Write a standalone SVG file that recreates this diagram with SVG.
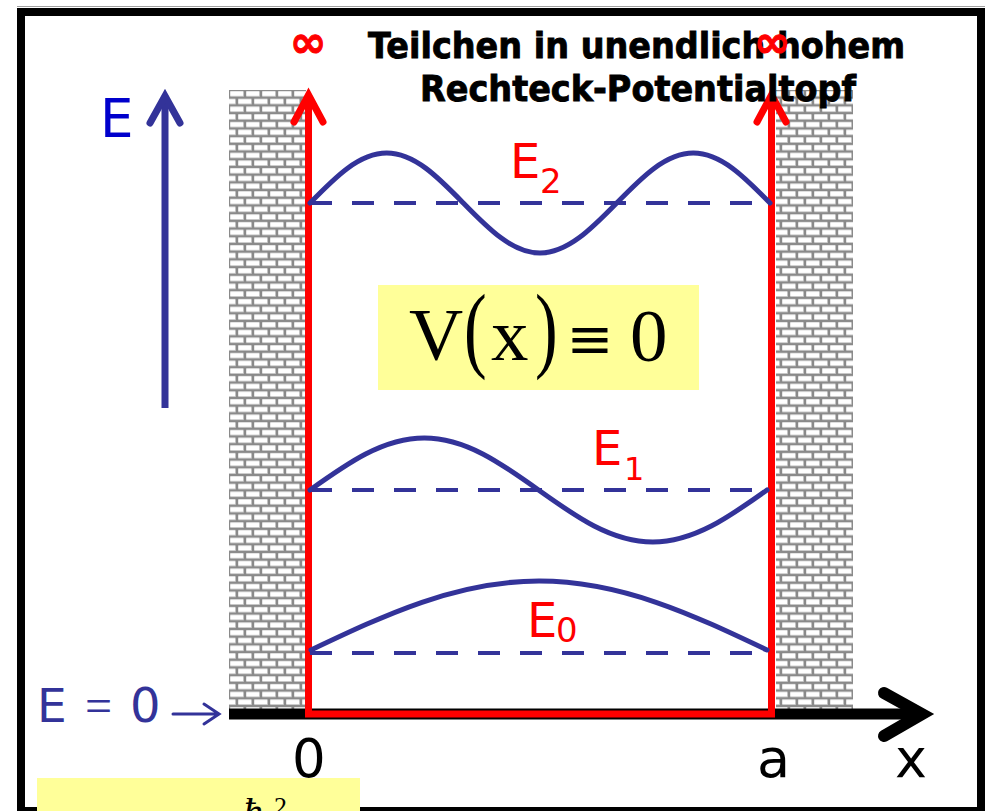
<svg xmlns="http://www.w3.org/2000/svg" width="985" height="811" viewBox="0 0 985 811">
<defs>
<style>
.sans{font-family:"DejaVu Sans","Verdana",sans-serif}
.serif{font-family:"Liberation Serif","Times New Roman",serif}
.wave{fill:none;stroke:#333399;stroke-width:5;stroke-linecap:round}
.dash{fill:none;stroke:#333399;stroke-width:4;stroke-dasharray:22 20}
.red{fill:none;stroke:#ff0000;stroke-width:7}
.redtxt{fill:#ff0000}
.title{font-family:"DejaVu Sans","Verdana",sans-serif;font-weight:bold;font-size:36px;fill:#000000;stroke:#000000;stroke-width:0.9}
</style>
<pattern id="brick" width="16" height="15.4" patternUnits="userSpaceOnUse" x="229" y="90">
<rect width="16" height="15.4" fill="#8a8a8a"/>
<rect x="1.3" y="1.3" width="13.6" height="5.4" fill="#c4c4c4"/>
<rect x="1.3" y="1.3" width="12.8" height="4.6" fill="#ffffff"/>
<rect x="-6.7" y="9" width="13.6" height="5.4" fill="#c4c4c4"/>
<rect x="-6.7" y="9" width="12.8" height="4.6" fill="#ffffff"/>
<rect x="9.3" y="9" width="13.6" height="5.4" fill="#c4c4c4"/>
<rect x="9.3" y="9" width="12.8" height="4.6" fill="#ffffff"/>
</pattern>
</defs>
<rect width="985" height="811" fill="#ffffff"/>
<line x1="17" y1="6.5" x2="985" y2="6.5" stroke="#a0a0a0" stroke-width="1"/>
<rect id="frame" x="21" y="12" width="960" height="799" fill="none" stroke="#000000" stroke-width="8"/>

<g id="walls">
<rect x="229" y="90" width="77" height="620" fill="url(#brick)"/>
<rect x="776" y="90" width="77" height="620" fill="url(#brick)"/>
</g>

<g id="connectors">
<line x1="229" y1="714" x2="920" y2="714" stroke="#000000" stroke-width="11"/>
<polyline points="884,693 922,714 884,736" fill="none" stroke="#000000" stroke-width="12" stroke-linecap="round" stroke-linejoin="miter"/>
<path class="red" d="M308.5,96 V714 H771.5 V96"/>
<polyline class="red" points="294,122 308.5,95 323,122" stroke-linecap="round" stroke-linejoin="miter"/>
<polyline class="red" points="757,122 771.5,95 786,122" stroke-linecap="round" stroke-linejoin="miter"/>
<line x1="165" y1="408" x2="165" y2="98" stroke="#333399" stroke-width="7"/>
<polyline points="150,123 165,96 180,123" fill="none" stroke="#333399" stroke-width="7" stroke-linecap="round" stroke-linejoin="miter"/>
<path d="M173,714 H218 M204,704 L219,714 L204,724" fill="none" stroke="#333399" stroke-width="3" stroke-linecap="round"/>
</g>

<g id="level2">
<line class="dash" x1="310" y1="203" x2="770" y2="203"/>
<path class="wave" d="M310,203 C335,177.4 358.9,153 386.7,153 S438.3,177.4 463.3,203 S512.3,253 540,253 S591.7,228.6 616.7,203 S665.6,153 693.3,153 S745,177.4 770,203"/>
<text class="sans redtxt" x="510" y="178" font-size="48">E</text>
<text class="sans redtxt" x="540" y="193" font-size="34">2</text>
</g>

<g id="level1">
<line class="dash" x1="310" y1="490" x2="768" y2="490"/>
<path class="wave" d="M310,490 C347.3,463.4 382.9,438 424.3,438 S501.2,463.4 538.5,490 S611.4,542 652.8,542 S729.7,516.6 767,490"/>
<text class="sans redtxt" x="592" y="465" font-size="48">E</text>
<text class="sans redtxt" x="624" y="480" font-size="32">1</text>
</g>

<g id="level0">
<line class="dash" x1="310" y1="653" x2="768" y2="653"/>
<path class="wave" d="M311,650 C385.4,614.7 456.5,581 539,581 S692.6,614.7 767,650"/>
<text class="sans redtxt" x="527" y="637" font-size="48">E</text>
<text class="sans redtxt" x="556" y="642" font-size="34">0</text>
</g>

<g id="potential">
<rect x="378" y="285" width="321" height="105" fill="#ffff99"/>
<text class="serif" x="409" y="360" font-size="75">V</text>
<text class="serif" transform="translate(464,360) scale(1,1.4)" font-size="68">(</text>
<text class="serif" x="491" y="360" font-size="75">x</text>
<text class="serif" transform="translate(535,360) scale(1,1.4)" font-size="68">)</text>
<text x="590" y="358" font-size="56" text-anchor="middle" style="font-family:'DejaVu Serif',serif">≡</text>
<text class="serif" x="630" y="361" font-size="75">0</text>
</g>

<g id="title">
<text class="title" x="368" y="58" textLength="537" lengthAdjust="spacingAndGlyphs">Teilchen in unendlich hohem</text>
<text class="title" x="420" y="101" textLength="436" lengthAdjust="spacingAndGlyphs">Rechteck-Potentialtopf</text>
<text class="sans redtxt" x="308" y="57" font-size="44" font-weight="bold" text-anchor="middle" stroke="#ff0000" stroke-width="1">∞</text>
<text class="sans redtxt" x="772" y="57" font-size="44" font-weight="bold" text-anchor="middle" stroke="#ff0000" stroke-width="1">∞</text>
</g>

<g id="axis-labels">
<text class="sans" x="100" y="137" font-size="53" fill="#0000cc">E</text>
<text class="sans" x="37" y="722" font-size="47" fill="#333399">E</text>
<text class="serif" x="85" y="722" font-size="48" fill="#333399">=</text>
<text class="sans" x="130" y="722" font-size="48" fill="#333399">0</text>
<text class="sans" x="292" y="777" font-size="53" fill="#000000">0</text>
<text class="sans" x="757" y="777" font-size="54" fill="#000000">a</text>
<text class="sans" x="895" y="777" font-size="54" fill="#000000">x</text>
</g>

<g id="formula">
<rect x="37" y="778" width="323" height="40" fill="#ffff99"/>
<text class="serif" x="243" y="826" font-size="40" font-style="italic">ħ</text>
<text class="serif" x="274" y="815" font-size="26">2</text>
</g>
</svg>
